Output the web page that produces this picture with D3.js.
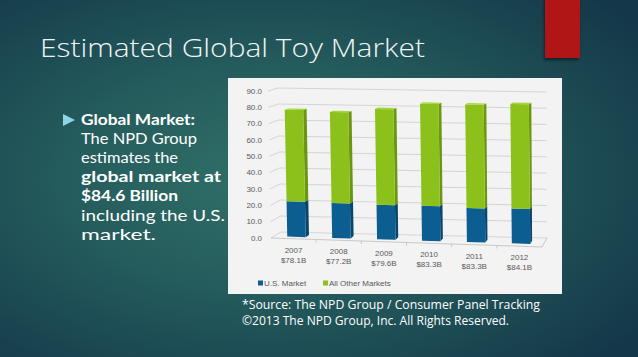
<!DOCTYPE html>
<html><head><meta charset="utf-8">
<script src="https://cdn.jsdelivr.net/npm/d3@7"></script>
<style>html,body{margin:0;padding:0;background:#1b4652;overflow:hidden}</style>
</head><body>
<svg id="c" width="638" height="357"></svg>
<script>
const years = ["2007","2008","2009","2010","2011","2012"];
const totalLabels = ["$78.1B","$77.2B","$79.6B","$83.3B","$83.3B","$84.1B"];
const usMarket = [21.7, 21.4, 21.1, 21.2, 20.6, 21.0];
const allOther = [56.4, 55.8, 58.5, 62.1, 62.7, 63.1];
const yTicks = [0,10,20,30,40,50,60,70,80,90];
const seriesNames = ["U.S. Market","All Other Markets"];
const bulletLines = [
  {t:"Global Market:", b:true},
  {t:"The NPD Group", b:false},
  {t:"estimates the", b:false},
  {t:"global market at", b:true},
  {t:"$84.6 Billion", b:true},
  {t:"including the U.S.", b:false},
  {t:"market.", b:false}
];
const sourceLines = ["*Source: The NPD Group / Consumer Panel Tracking","\u00A92013 The NPD Group, Inc. All Rights Reserved."];

const svg = d3.select("#c");
const defs = svg.append("defs");
const rg = defs.append("radialGradient").attr("id","bg").attr("cx","0.42").attr("cy","0.5").attr("r","0.72");
rg.append("stop").attr("offset","0").attr("stop-color","#317069");
rg.append("stop").attr("offset","0.45").attr("stop-color","#245b5c");
rg.append("stop").attr("offset","1").attr("stop-color","#143849");
const sh = defs.append("filter").attr("id","sh").attr("x","-30%").attr("y","-30%").attr("width","160%").attr("height","160%");
sh.append("feDropShadow").attr("dx",-1).attr("dy",2).attr("stdDeviation",1.5).attr("flood-color","#000").attr("flood-opacity",0.5);

svg.append("rect").attr("width",638).attr("height",357).attr("fill","url(#bg)");
svg.append("rect").attr("x",545).attr("y",-2).attr("width",35).attr("height",60).attr("fill","#b01717").attr("filter","url(#sh)");

svg.append("text").attr("x",40).attr("y",57).attr("fill","#f2f5f5")
  .style("font-family","'Open Sans', sans-serif").style("font-weight",300).style("font-size","26px")
  .attr("textLength",385).attr("lengthAdjust","spacingAndGlyphs")
  .text("Estimated Global Toy Market");

// bullet
svg.append("path").attr("d","M63,114 L75,120 L63,126 Z").attr("fill","#8fd3e6");
const widths = [114,116,97,140,97,144,75];
bulletLines.forEach((l,i)=>{
  svg.append("text").attr("x",81).attr("y",125+i*19.1).attr("fill","#ffffff")
    .style("font-family","Lato, 'Open Sans', sans-serif").style("font-weight",l.b?700:400).style("font-size","15.5px")
    .attr("textLength",widths[i]).attr("lengthAdjust","spacingAndGlyphs").text(l.t);
});

// panel
svg.append("rect").attr("x",228).attr("y",78).attr("width",334).attr("height",216).attr("fill","#f3f3f3");

// projection
const FL0=[271,238], FR0=[542,247], FTL=[268,91], FTR=[540,96];
const BL0=[281,232], BR0=[547,238], BTL=[278,88], BTR=[547,92];
const lerp=(a,b,t)=>[a[0]+(b[0]-a[0])*t, a[1]+(b[1]-a[1])*t];
const yv = d3.scaleLinear().domain([0,90]).range([0,1]);
const xb = d3.scaleBand().domain(years).range([0,1]).paddingInner(0.59).paddingOuter(0.295);
function P(u,v,d){
  const t=yv(v);
  const f=lerp(lerp(FL0,FR0,u),lerp(FTL,FTR,u),t);
  const b=lerp(lerp(BL0,BR0,u),lerp(BTL,BTR,u),t);
  return lerp(f,b,d);
}
const poly = pts => "M"+pts.map(p=>p[0].toFixed(2)+","+p[1].toFixed(2)).join("L")+"Z";
const line = (a,b)=>"M"+a[0]+","+a[1]+"L"+b[0]+","+b[1];

const g = svg.append("g");
const gridCol="#d4d4d4";
yTicks.forEach(v=>{
  g.append("path").attr("d",line(P(0,v,0),P(0,v,1))+line(P(0,v,1),P(1,v,1)))
    .attr("stroke",gridCol).attr("fill","none").attr("stroke-width",1);
  const p=P(0,v,0);
  g.append("text").attr("x",262).attr("y",p[1]).attr("dy","0.35em").attr("text-anchor","end")
    .attr("fill","#5a5a5a").style("font-family","'Liberation Sans', Arial, sans-serif").style("font-size","8px")
    .text(v.toFixed(1));
});
g.append("path").attr("d",line(P(0,0,0),P(1,0,0))+line(P(1,0,0),P(1,0,1))).attr("stroke","#c8c8c8").attr("fill","none");
d3.range(1,years.length).forEach(i=>{
  const p=P(i/years.length,0,0);
  g.append("path").attr("d",line(p,[p[0],p[1]+3])).attr("stroke","#c8c8c8");
});

const df=0.3, db=0.65;
const cols = [
  {front:"#0b5e8f", side:"#06466c", top:"#2a76a3"},
  {front:"#8cc11b", side:"#6a9612", top:"#a6d73a"}
];
years.forEach((yr,i)=>{
  const u0=xb(yr), u1=xb(yr)+xb.bandwidth();
  const segs=[[0,usMarket[i]],[usMarket[i],usMarket[i]+allOther[i]]];
  segs.forEach((s,k)=>{
    const [a,b]=s, c=cols[k];
    g.append("path").attr("d",poly([P(u1,a,df),P(u1,a,db),P(u1,b,db),P(u1,b,df)])).attr("fill",c.side);
    g.append("path").attr("d",poly([P(u0,a,df),P(u1,a,df),P(u1,b,df),P(u0,b,df)])).attr("fill",c.front);
    if(k===1) g.append("path").attr("d",poly([P(u0,b,df),P(u1,b,df),P(u1,b,db),P(u0,b,db)])).attr("fill",c.top);
  });
  const pc=P(xb(yr)+xb.bandwidth()/2,0,0);
  const t=g.append("text").attr("x",pc[0]).attr("y",pc[1]+14).attr("text-anchor","middle")
    .attr("fill","#5a5a5a").style("font-family","'Liberation Sans', Arial, sans-serif").style("font-size","8px");
  t.append("tspan").attr("x",pc[0]).text(yr);
  t.append("tspan").attr("x",pc[0]).attr("dy",10).text(totalLabels[i]);
});

// legend
const lx=[258,323];
seriesNames.forEach((n,i)=>{
  g.append("rect").attr("x",lx[i]).attr("y",280.5).attr("width",5).attr("height",5).attr("fill",cols[i].front);
  g.append("text").attr("x",lx[i]+6).attr("y",286).attr("fill","#5a5a5a")
    .style("font-family","'Liberation Sans', Arial, sans-serif").style("font-size","8px").text(n);
});

// source
const sw=[298,267];
sourceLines.forEach((s,i)=>{
  svg.append("text").attr("x",242).attr("y",309+i*16).attr("fill","#ffffff")
    .style("font-family","'Open Sans', sans-serif").style("font-size","12px")
    .attr("textLength",sw[i]).attr("lengthAdjust","spacingAndGlyphs").text(s);
});
</script>
</body></html>
